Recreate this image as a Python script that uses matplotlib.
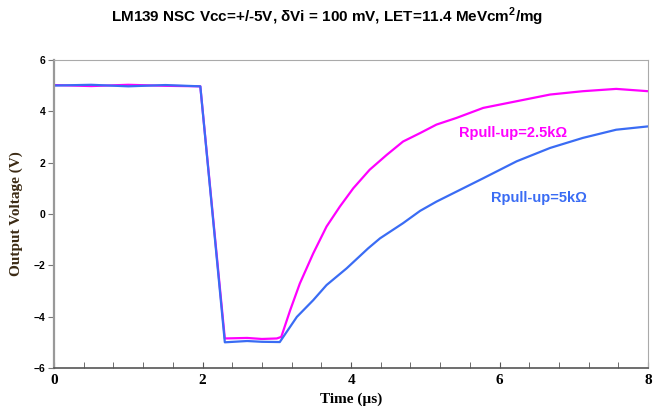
import matplotlib
matplotlib.use("Agg")
import matplotlib.pyplot as plt
from matplotlib.ticker import MultipleLocator

# values
t_25k = [0.0, 0.5, 1.0, 1.5, 1.97, 2.30, 2.6, 2.8, 3.0, 3.06, 3.18, 3.31,
         3.49, 3.67, 3.85, 4.03, 4.25, 4.48, 4.70, 4.93, 5.15, 5.42, 5.78,
         6.23, 6.68, 7.12, 7.57, 8.0]
v_25k = [5.02, 4.98, 5.03, 4.99, 4.97, -4.85, -4.83, -4.87, -4.85, -4.79,
         -3.75, -2.71, -1.54, -0.49, 0.29, 1.00, 1.72, 2.30, 2.82, 3.15, 3.48,
         3.74, 4.13, 4.39, 4.65, 4.78, 4.87, 4.78]

t_5k = [0.0, 0.5, 1.0, 1.5, 1.97, 2.30, 2.6, 2.8, 3.04, 3.27, 3.49, 3.67,
        3.94, 4.23, 4.39, 4.70, 4.93, 5.15, 5.42, 5.78, 6.23, 6.68, 7.12,
        7.57, 8.0]
v_5k = [5.0, 5.03, 4.97, 5.02, 4.97, -5.0, -4.95, -4.98, -4.99, -4.01, -3.36,
        -2.77, -2.12, -1.34, -0.95, -0.36, 0.12, 0.48, 0.87, 1.39, 2.05,
        2.57, 2.96, 3.28, 3.41]

x_ticks = [0, 2, 4, 6, 8]
y_ticks = [-6, -4, -2, 0, 2, 4, 6]

MAGENTA = "#ff00ff"
BLUE = "#3a6cf4"

plt.rcParams["mathtext.fontset"] = "custom"
plt.rcParams["mathtext.rm"] = "Liberation Sans:bold"
plt.rcParams["mathtext.bf"] = "Liberation Sans:bold"

fig = plt.figure(figsize=(6.54, 4.13), dpi=100)
ax = fig.add_axes([0.0826, 0.109, 0.9084, 0.746])

ax.plot(t_25k, v_25k, color=MAGENTA, lw=1.6)
ax.plot(t_5k, v_5k, color=BLUE, lw=1.6)

ax.set_xlim(0, 8)
ax.set_ylim(-6, 6)
ax.set_xticks(x_ticks)
ax.set_yticks(y_ticks)
ax.xaxis.set_minor_locator(MultipleLocator(0.4))

for lbl in ax.get_xticklabels():
    lbl.set_fontfamily("Liberation Serif")
    lbl.set_fontweight("bold")
    lbl.set_fontsize(11)
for lbl in ax.get_yticklabels():
    lbl.set_fontfamily("Liberation Sans")
    lbl.set_fontweight("bold")
    lbl.set_fontsize(7.5)

ax.tick_params(axis="x", which="both", direction="in", length=4,
               color="#555555", pad=4)
ax.tick_params(axis="y", direction="out", length=4, color="#777777", pad=2)

ax.spines["left"].set_color("#999999")
ax.spines["left"].set_linewidth(1.6)
ax.spines["bottom"].set_color("#555555")
ax.spines["bottom"].set_linewidth(1.2)
ax.spines["top"].set_color("#aaaaaa")
ax.spines["right"].set_color("#aaaaaa")

ax.set_xlabel("Time (\u00b5s)", fontfamily="Liberation Serif",
              fontweight="bold", fontsize=11, labelpad=4)
ax.set_ylabel("Output Voltage (V)", fontfamily="Liberation Serif",
              fontweight="bold", fontsize=11, color="#3b2a14", labelpad=8)

ax.text(6.18, 3.16, "Rpull-up=2.5k\u03a9", color=MAGENTA, fontsize=10.5,
        fontweight="bold", fontfamily="Liberation Sans", ha="center", va="center")
ax.text(6.53, 0.62, "Rpull-up=5k\u03a9", color=BLUE, fontsize=10.5,
        fontweight="bold", fontfamily="Liberation Sans", ha="center", va="center")

fig.text(0.5, 0.958,
         "LM139 NSC Vcc=+/-5V, \u03b4Vi = 100 mV, LET=11.4 MeVcm$^\\mathbf{2}$/mg",
         ha="center", va="center", fontsize=11, fontweight="bold",
         fontfamily="Liberation Sans")

fig.savefig("out.png", dpi=100)
